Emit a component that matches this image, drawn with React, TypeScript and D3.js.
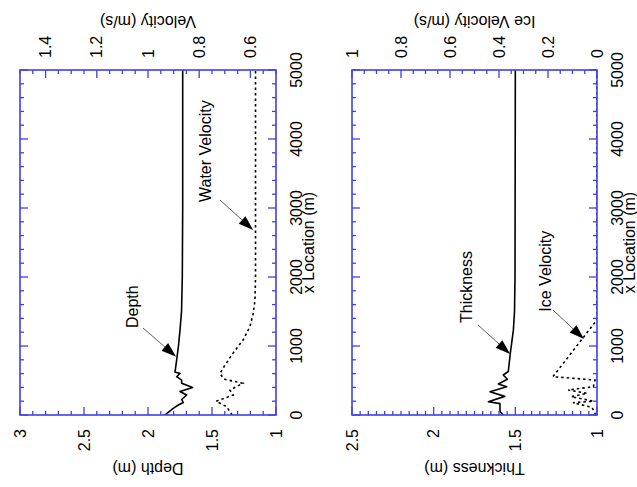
import React from 'react';
import * as d3 from 'd3';

const W = 637;
const H = 487;
const FONT = '"Liberation Sans", Arial, Helvetica, sans-serif';
const BLUE = '#4040e8';

// x Location (m)
const locMajorTicks = [0, 1000, 2000, 3000, 4000, 5000];

// Panel A: depth / water velocity
const depthLoc = [0, 50, 100, 145, 180, 225, 290, 340, 400, 460, 505, 555, 605, 620, 800, 1000, 1230, 1500, 2000, 3000, 5000];
const depthVal = [1.867, 1.835, 1.8, 1.763, 1.724, 1.737, 1.698, 1.75, 1.651, 1.737, 1.737, 1.776, 1.75, 1.789, 1.776, 1.762, 1.75, 1.738, 1.732, 1.729, 1.729];
const waterVelLoc = [0, 120, 200, 290, 360, 460, 520, 600, 725, 900, 1090, 1280, 1470, 1670, 2000, 5000];
const waterVelVal = [0.671, 0.693, 0.734, 0.667, 0.68, 0.63, 0.703, 0.719, 0.699, 0.667, 0.628, 0.602, 0.589, 0.582, 0.58, 0.58];
const depthTicks = [3, 2.5, 2, 1.5, 1];
const velTicks = [1.4, 1.2, 1, 0.8, 0.6];

// Panel B: thickness / ice velocity
const thickLoc = [0, 50, 165, 193, 270, 338, 410, 450, 517, 580, 630, 870, 1230, 1500, 2000, 5000];
const thickVal = [1.574, 1.594, 1.594, 1.665, 1.565, 1.655, 1.553, 1.604, 1.549, 1.574, 1.543, 1.532, 1.512, 1.505, 1.502, 1.5];
const iceVelLoc = [0, 110, 178, 200, 265, 314, 362, 410, 507, 555, 1380, 5000];
const iceVelVal = [0.005, 0.02, 0.098, 0.015, 0.105, 0.04, 0.118, 0.015, 0.008, 0.18, 0, 0];
const thickTicks = [2.5, 2, 1.5, 1];
const iceVelTicks = [1, 0.8, 0.6, 0.4, 0.2, 0];

const TOP = 70;
const BOTTOM = 415;

type Ann = { text: string; tip: [number, number]; tail: [number, number]; dx: number; dy: number };

interface PanelProps {
  left: number;
  right: number;
  botDomain: [number, number];
  botMajor: number[];
  botMinorStep: number;
  botTitle: string;
  topDomain: [number, number];
  topMajor: number[];
  topMinorStep: number;
  topTitle: string;
  solidLoc: number[];
  solidVal: number[];
  dotLoc: number[];
  dotVal: number[];
  anns: { solid: Ann; dot: Ann };
  id: string;
}

function fmt(v: number) {
  return String(+v.toFixed(2));
}

function Arrow({ x1, y1, x2, y2 }: { x1: number; y1: number; x2: number; y2: number }) {
  const dx = x2 - x1;
  const dy = y2 - y1;
  const len = Math.hypot(dx, dy);
  const ux = dx / len;
  const uy = dy / len;
  const L = 15;
  const hw = 5;
  const bx = x2 - ux * L;
  const by = y2 - uy * L;
  const p1 = [bx - uy * hw, by + ux * hw];
  const p2 = [bx + uy * hw, by - ux * hw];
  return (
    <g>
      <line x1={x1} y1={y1} x2={bx} y2={by} stroke="#333" strokeWidth={0.8} />
      <polygon points={`${x2},${y2} ${p1[0]},${p1[1]} ${p2[0]},${p2[1]}`} fill="#000" />
    </g>
  );
}

function Panel(p: PanelProps) {
  const loc = d3.scaleLinear().domain([0, 5000]).range([BOTTOM, TOP]);
  const bot = d3.scaleLinear().domain(p.botDomain).range([p.left, p.right]);
  const topS = d3.scaleLinear().domain(p.topDomain).range([p.left, p.right]);
  const lo = Math.min(...p.botDomain);
  const hi = Math.max(...p.botDomain);
  const botMinor = d3.range(lo, hi + 1e-9, p.botMinorStep);
  const tlo = Math.min(...p.topDomain);
  const thi = Math.max(...p.topDomain);
  const topMinor = d3.range(tlo, thi + 1e-9, p.topMinorStep);
  const locMinor = d3.range(0, 5000 + 1e-9, 200);
  const isMajor = (v: number, arr: number[]) => arr.some((a) => Math.abs(a - v) < 1e-6);

  const solidLine = d3
    .line<number>()
    .x((_, i) => bot(p.solidVal[i]))
    .y((d) => loc(d));
  const dotLine = d3
    .line<number>()
    .x((_, i) => topS(p.dotVal[i]))
    .y((d) => loc(d));

  const cx = (p.left + p.right) / 2;
  const sA = p.anns.solid;
  const dA = p.anns.dot;
  const sTail = [bot(sA.tail[1]), loc(sA.tail[0])];
  const sTip = [bot(sA.tip[1]), loc(sA.tip[0])];
  const dTail = [topS(dA.tail[1]), loc(dA.tail[0])];
  const dTip = [topS(dA.tip[1]), loc(dA.tip[0])];

  return (
    <g>
      <defs>
        <clipPath id={`clip-${p.id}`}>
          <rect x={p.left} y={TOP} width={p.right - p.left} height={BOTTOM - TOP} />
        </clipPath>
      </defs>
      {/* curves */}
      <g clipPath={`url(#clip-${p.id})`}>
        <path d={solidLine(p.solidLoc) || ''} fill="none" stroke="#000" strokeWidth={1.6} strokeLinejoin="round" />
        <path d={dotLine(p.dotLoc) || ''} fill="none" stroke="#000" strokeWidth={1.6} strokeDasharray="2.5,3" />
      </g>
      {/* frame */}
      <rect x={p.left} y={TOP} width={p.right - p.left} height={BOTTOM - TOP} fill="none" stroke={BLUE} strokeWidth={1.6} />
      {/* bottom ticks */}
      {botMinor.map((v, i) => {
        const L = isMajor(v, p.botMajor) ? 8 : 4;
        return <line key={`b${i}`} x1={bot(v)} x2={bot(v)} y1={BOTTOM} y2={BOTTOM - L} stroke={BLUE} strokeWidth={1.3} />;
      })}
      {/* top ticks */}
      {topMinor.map((v, i) => {
        const L = isMajor(v, p.topMajor) ? 8 : 4;
        return <line key={`t${i}`} x1={topS(v)} x2={topS(v)} y1={TOP} y2={TOP + L} stroke={BLUE} strokeWidth={1.3} />;
      })}
      {/* location ticks left & right */}
      {locMinor.map((v, i) => {
        const L = isMajor(v, locMajorTicks) ? 8 : 4;
        return (
          <g key={`l${i}`}>
            <line x1={p.left} x2={p.left + L} y1={loc(v)} y2={loc(v)} stroke={BLUE} strokeWidth={1.3} />
            <line x1={p.right} x2={p.right - L} y1={loc(v)} y2={loc(v)} stroke={BLUE} strokeWidth={1.3} />
          </g>
        );
      })}
      {/* bottom tick labels */}
      {p.botMajor.map((v, i) => (
        <text key={`bl${i}`} transform={`translate(${bot(v)},429) rotate(-90)`} dy="0.35em" textAnchor="end" fontSize={16} fontFamily={FONT}>
          {fmt(v)}
        </text>
      ))}
      {/* top tick labels */}
      {p.topMajor.map((v, i) => (
        <text key={`tl${i}`} transform={`translate(${topS(v)},58) rotate(-90)`} dy="0.35em" textAnchor="start" fontSize={16} fontFamily={FONT}>
          {fmt(v)}
        </text>
      ))}
      {/* location tick labels */}
      {locMajorTicks.map((v, i) => (
        <text key={`ll${i}`} transform={`translate(${p.right + 26},${loc(v)}) rotate(-90)`} textAnchor="middle" fontSize={16} fontFamily={FONT}>
          {v}
        </text>
      ))}
      <text transform={`translate(${p.right + 38},${(TOP + BOTTOM) / 2}) rotate(-90)`} textAnchor="middle" fontSize={16} fontFamily={FONT}>
        x Location (m)
      </text>
      {/* axis titles (upside down) */}
      <text transform={`translate(${cx},16) rotate(180)`} textAnchor="middle" fontSize={16} fontFamily={FONT}>
        {p.topTitle}
      </text>
      <text transform={`translate(${cx},463) rotate(180)`} textAnchor="middle" fontSize={16} fontFamily={FONT}>
        {p.botTitle}
      </text>
      {/* annotations */}
      <Arrow x1={sTail[0]} y1={sTail[1]} x2={sTip[0]} y2={sTip[1]} />
      <text transform={`translate(${sTail[0] + sA.dx},${sTail[1] + sA.dy}) rotate(-90)`} textAnchor="start" fontSize={16} fontFamily={FONT}>
        {sA.text}
      </text>
      <Arrow x1={dTail[0]} y1={dTail[1]} x2={dTip[0]} y2={dTip[1]} />
      <text transform={`translate(${dTail[0] + dA.dx},${dTail[1] + dA.dy}) rotate(-90)`} textAnchor="start" fontSize={16} fontFamily={FONT}>
        {dA.text}
      </text>
    </g>
  );
}

export default function App() {
  return (
    <svg width={W} height={H} style={{ position: 'absolute', left: 0, top: 0, background: '#fff' }}>
      <rect x={0} y={0} width={W} height={H} fill="#fff" />
      <Panel
        id="a"
        left={20}
        right={276}
        botDomain={[3, 1]}
        botMajor={depthTicks}
        botMinorStep={0.1}
        botTitle="Depth (m)"
        topDomain={[1.5, 0.5]}
        topMajor={velTicks}
        topMinorStep={0.05}
        topTitle="Velocity (m/s)"
        solidLoc={depthLoc}
        solidVal={depthVal}
        dotLoc={waterVelLoc}
        dotVal={waterVelVal}
        anns={{
          solid: { text: 'Depth', tip: [845, 1.78], tail: [1261, 2.039], dx: -5, dy: 0 },
          dot: { text: 'Water Velocity', tip: [2681, 0.589], tail: [3116, 0.719], dx: -8.5, dy: 2 },
        }}
      />
      <Panel
        id="b"
        left={352}
        right={597}
        botDomain={[2.5, 1]}
        botMajor={thickTicks}
        botMinorStep={0.05}
        botTitle="Thickness (m)"
        topDomain={[1, 0]}
        topMajor={iceVelTicks}
        topMinorStep={0.05}
        topTitle="Ice Velocity (m/s)"
        solidLoc={thickLoc}
        solidVal={thickVal}
        dotLoc={iceVelLoc}
        dotVal={iceVelVal}
        anns={{
          solid: { text: 'Thickness', tip: [884, 1.532], tail: [1304, 1.728], dx: -6.5, dy: -2 },
          dot: { text: 'Ice Velocity', tip: [1101, 0.053], tail: [1522, 0.18], dx: -2, dy: 1.7 },
        }}
      />
    </svg>
  );
}
